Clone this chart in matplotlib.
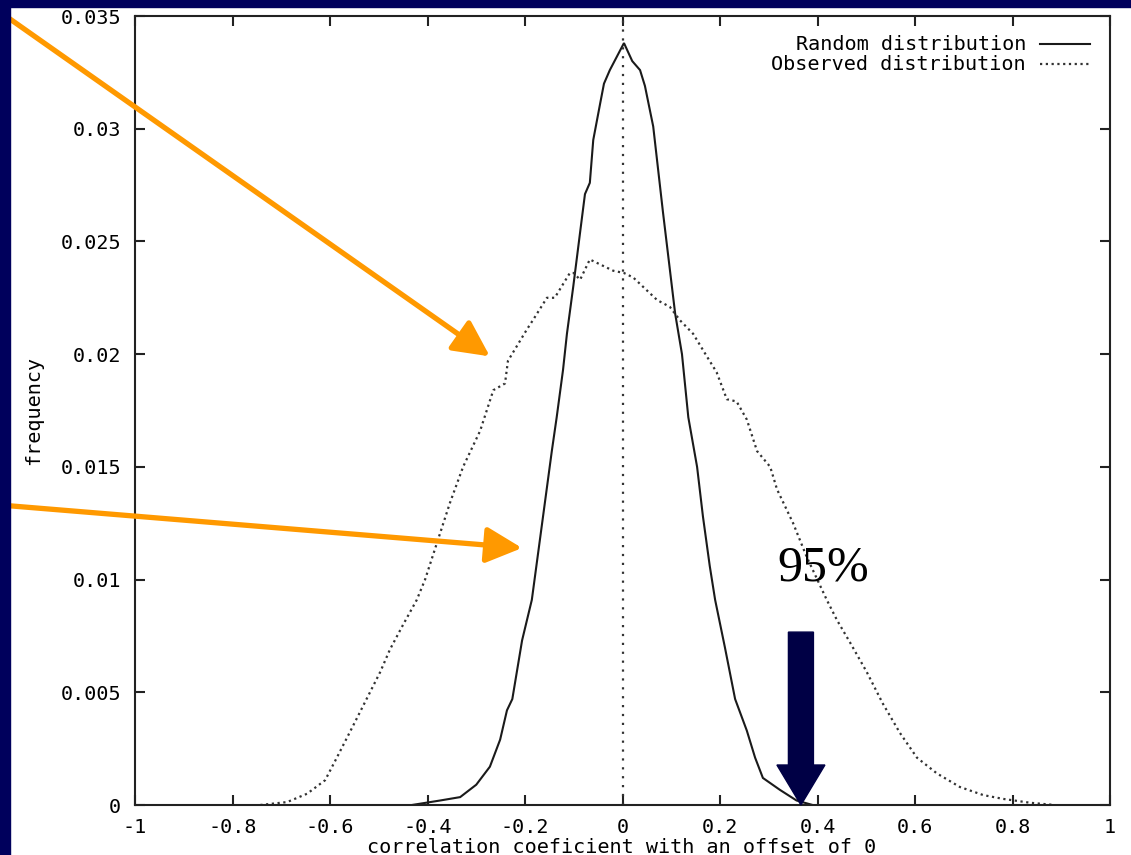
import matplotlib
matplotlib.use("Agg")
import matplotlib.pyplot as plt
from matplotlib.patches import Rectangle, FancyArrow

plt.rcParams['axes.unicode_minus'] = False

# ---------------- data ----------------
random_x = [-0.432, -0.374, -0.333, -0.300, -0.272, -0.251, -0.237, -0.226, -0.206,
            -0.186, -0.163, -0.145, -0.135, -0.122, -0.114, -0.101, -0.087, -0.077,
            -0.067, -0.060, -0.046, -0.038, -0.026, 0.003, 0.020, 0.036, 0.046,
            0.063, 0.073, 0.083, 0.093, 0.108, 0.122, 0.135, 0.153, 0.165, 0.179,
            0.190, 0.210, 0.231, 0.255, 0.272, 0.288, 0.323, 0.357, 0.390]
random_y = [0.0, 0.0002, 0.00035, 0.0009, 0.0017, 0.0029, 0.0042, 0.0047, 0.0073,
            0.0091, 0.0128, 0.0157, 0.0172, 0.0193, 0.0209, 0.0230, 0.0254, 0.0271,
            0.0276, 0.0295, 0.0311, 0.0320, 0.0326, 0.0338, 0.0330, 0.0326, 0.0319,
            0.0301, 0.0282, 0.0263, 0.0245, 0.0218, 0.0200, 0.0172, 0.0150, 0.0128, 0.0106,
            0.0091, 0.0070, 0.0047, 0.0033, 0.0021, 0.0012, 0.00067, 0.0002, 0.0]

observed_x = [-0.743, -0.688, -0.647, -0.610, -0.586, -0.553, -0.525, -0.497, -0.477,
              -0.450, -0.422, -0.405, -0.381, -0.354, -0.327, -0.292, -0.265, -0.241,
              -0.235, -0.196, -0.184, -0.155, -0.139, -0.108, -0.100, -0.087, -0.067,
              -0.019, 0.003, 0.022, 0.071, 0.097, 0.118, 0.145, 0.173, 0.193, 0.214,
              0.234, 0.255, 0.276, 0.303, 0.317, 0.350, 0.378, 0.419, 0.440, 0.467,
              0.501, 0.534, 0.569, 0.604, 0.645, 0.692, 0.740, 0.781, 0.836, 0.887]
observed_y = [0.0, 0.00013, 0.0005, 0.0011, 0.0021, 0.0035, 0.0047, 0.0059, 0.0069,
              0.0080, 0.0091, 0.0100, 0.0116, 0.0134, 0.0150, 0.0166, 0.0184, 0.0187,
              0.0197, 0.0211, 0.0215, 0.0225, 0.0225, 0.0236, 0.0236, 0.0233, 0.0242,
              0.0237, 0.0236, 0.0234, 0.0224, 0.0221, 0.0215, 0.0209, 0.0199, 0.0192, 0.0180,
              0.0179, 0.0171, 0.0157, 0.0150, 0.0140, 0.0125, 0.0110, 0.0091, 0.0082, 0.0072,
              0.0059, 0.0045, 0.0032, 0.0021, 0.0014, 0.0008, 0.00044, 0.00027, 0.0001, 0.0]

x_ticks = [-1, -0.8, -0.6, -0.4, -0.2, 0, 0.2, 0.4, 0.6, 0.8, 1]
x_tick_labels = ["-1", "-0.8", "-0.6", "-0.4", "-0.2", "0", "0.2", "0.4", "0.6", "0.8", "1"]
y_ticks = [0, 0.005, 0.01, 0.015, 0.02, 0.025, 0.03, 0.035]
y_tick_labels = ["0", "0.005", "0.01", "0.015", "0.02", "0.025", "0.03", "0.035"]

series_labels = ["Random distribution", "Observed distribution"]
x_label = "correlation coeficient with an offset of 0"
y_label = "frequency"
marker_text = "95%"
threshold_x = 0.366

# ---------------- figure ----------------
W, H = 1131, 855
fig = plt.figure(figsize=(W / 100, H / 100), dpi=100, facecolor="white")

navy = "#00005C"
fig.patches.append(Rectangle((0, 0), 10 / W, 1, transform=fig.transFigure,
                             color=navy, zorder=0))
fig.patches.append(Rectangle((0, 1 - 7 / H), 1, 7 / H, transform=fig.transFigure,
                             color=navy, zorder=0))

ax = fig.add_axes([135 / W, 50 / H, 975 / W, 789 / H])
ax.set_xlim(-1, 1)
ax.set_ylim(0, 0.035)

mono = "DejaVu Sans Mono"
fs = 14.5

ax.plot(random_x, random_y, color="#1a1a1a", lw=1.5, solid_joinstyle="miter")
ax.plot(observed_x, observed_y, color="#333333", lw=1.6, ls=(0, (1, 1.6)))
ax.axvline(0, color="#333333", lw=1.6, ls=(0, (1, 3)))

for s in ax.spines.values():
    s.set_linewidth(1.5)
    s.set_color("#222222")

ax.set_xticks(x_ticks)
ax.set_xticklabels(x_tick_labels, fontfamily=mono, fontsize=fs)
ax.set_yticks(y_ticks)
ax.set_yticklabels(y_tick_labels, fontfamily=mono, fontsize=fs)
ax.tick_params(direction="in", length=7, width=1.5, top=True, right=True,
               pad=10, color="#222222")
ax.tick_params(axis="x", pad=9)

fig.text(622 / W, 1 - 847 / H, x_label, fontfamily=mono, fontsize=fs,
         ha="center", va="center")
fig.text(34 / W, 1 - 410 / H, y_label, rotation=90, fontfamily=mono, fontsize=fs,
         ha="center", va="center")

# legend (gnuplot style: text right-aligned, sample to the right)
leg_y = [1 - 44 / H, 1 - 64 / H]
styles = [dict(color="#1a1a1a", lw=1.5, ls="-"),
          dict(color="#333333", lw=1.6, ls=(0, (1, 1.6)))]
for lab, yy, st in zip(series_labels, leg_y, styles):
    fig.text(1026 / W, yy, lab, fontfamily=mono, fontsize=fs, ha="right", va="center")
    fig.add_artist(plt.Line2D([1040 / W, 1090 / W], [yy, yy], transform=fig.transFigure, **st))

# orange arrows (slide annotations)
orange = "#FF9900"
arrow_props = dict(arrowstyle="-|>,head_length=1.1,head_width=0.55", color=orange,
                   lw=3.8, mutation_scale=20, shrinkA=0, shrinkB=0)
ax.annotate("", xy=(-0.272, 0.0199), xycoords="data",
            xytext=(0, 1 - 12 / H), textcoords="figure fraction", arrowprops=arrow_props)
ax.annotate("", xy=(-0.206, 0.0114), xycoords="data",
            xytext=(0, 1 - 505 / H), textcoords="figure fraction", arrowprops=arrow_props)

# navy arrow marking 95% threshold
ax.add_patch(FancyArrow(threshold_x, 0.00767, 0, -0.00767, width=25 / 487.5,
                        head_width=48 / 487.5, head_length=40 * 0.035 / 789,
                        length_includes_head=True, color="#000045", zorder=5,
                        clip_on=False))
ax.text(threshold_x + 0.045, 0.0105, marker_text, fontfamily="Liberation Serif",
        fontsize=36, ha="center", va="center", color="black")

fig.savefig("out.png", dpi=100, facecolor="white")
